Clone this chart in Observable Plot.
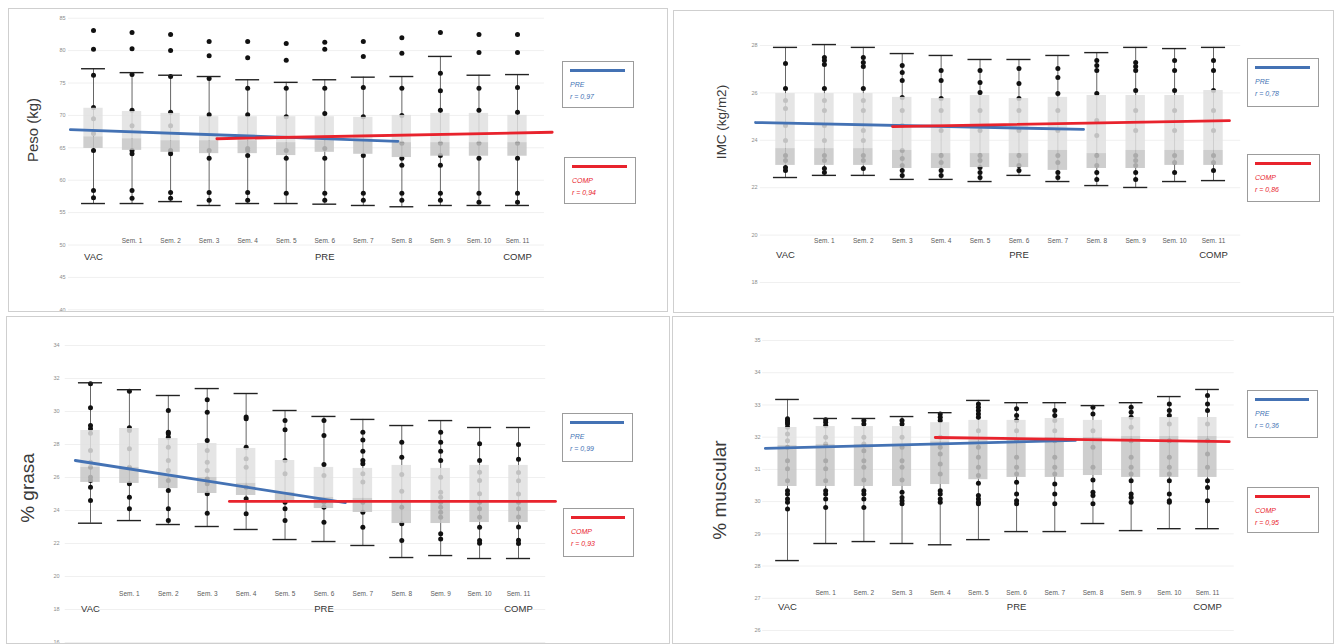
<!DOCTYPE html>
<html><head><meta charset="utf-8">
<script src="https://cdn.jsdelivr.net/npm/d3@7"></script>
<script src="https://cdn.jsdelivr.net/npm/@observablehq/plot@0.6"></script>
<style>
body{margin:0;background:#fff;width:1339px;height:644px;overflow:hidden;position:relative;font-family:"Liberation Sans",Arial,sans-serif}
.panel{position:absolute}
.panel svg{position:absolute;left:0;top:0;overflow:visible}
.frame{position:absolute;left:0;top:0;right:0;bottom:0;border:1.5px solid #cfcfcf;box-sizing:border-box;pointer-events:none}
.ytitle{position:absolute;transform:translate(-50%,-50%) rotate(-90deg);white-space:nowrap;color:#3a3a3a}
.legend{position:absolute;border:1px solid #9c9c9c;background:#fff;box-sizing:border-box}
.legend .ln{position:absolute;left:7px;right:8px;top:7px;height:3px}
.legend .tx{position:absolute;left:7px;top:17px;font-size:7px;line-height:12px;font-style:italic}
</style></head><body>
<script>
// ---------- categories / labels ----------
const categories = ["VAC","Sem. 1","Sem. 2","Sem. 3","Sem. 4","Sem. 5","Sem. 6","Sem. 7","Sem. 8","Sem. 9","Sem. 10","Sem. 11"];
const categoryRow1 = ["","Sem. 1","Sem. 2","Sem. 3","Sem. 4","Sem. 5","Sem. 6","Sem. 7","Sem. 8","Sem. 9","Sem. 10","Sem. 11"];
const categoryRow2 = ["VAC","","","","","","PRE","","","","","COMP"];
const seriesNames = ["PRE","COMP"];

// ---------- Peso (kg) ----------
const pesoTicks = [40,45,50,55,60,65,70,75,80,85];
const pesoMax = [77.2,76.6,76.2,76.0,75.5,75.1,75.5,75.9,76.0,79.1,76.2,76.3];
const pesoQ3 = [71.1,70.6,70.3,69.8,69.8,69.8,69.8,69.7,70.0,70.3,70.3,70.0];
const pesoMedian = [66.7,66.4,66.1,66.1,66.1,65.8,66.1,66.1,65.8,65.8,65.8,65.8];
const pesoQ1 = [64.9,64.6,64.3,64.1,64.1,63.8,64.3,64.0,63.5,63.7,63.7,63.7];
const pesoMin = [56.4,56.4,56.7,56.1,56.4,56.4,56.3,56.1,55.9,56.1,56.1,56.1];
const pesoPoints = [
  [83.1,80.2,76.2,71.2,69.5,67.2,64.6,58.4,57.3],
  [82.8,80.3,76.3,70.8,68.4,64.6,64.1,58.4,57.2],
  [82.5,80.0,76.0,70.5,68.4,64.6,64.1,58.1,57.2],
  [81.4,79.2,75.7,70.1,64.6,63.4,58.1,56.9],
  [81.4,78.9,74.2,70.1,64.9,64.6,63.8,58.1,56.9],
  [81.1,78.5,74.2,69.8,64.6,63.4,58.0],
  [81.3,80.2,74.2,70.3,64.9,63.4,58.0,56.9],
  [81.4,79.1,74.3,69.8,63.8,58.0,56.9],
  [82.0,79.6,74.2,70.0,65.7,63.4,62.3,58.0,56.9],
  [82.8,76.5,73.8,70.8,65.7,63.8,62.3,58.0,56.9],
  [82.5,79.7,74.2,70.8,65.7,63.4,58.0,56.6],
  [82.5,79.7,74.3,70.5,65.7,63.4,58.0,56.6]
];
const pesoTrendPre = [[-0.6,67.8],[7.9,66.0]];
const pesoTrendComp = [[3.2,66.4],[11.9,67.4]];
const pesoR = ["r = 0,97","r = 0,94"];

// ---------- IMC (kg/m2) ----------
const imcTicks = [18,20,22,24,26,28];
const imcMax = [27.92,28.04,27.92,27.66,27.58,27.41,27.41,27.58,27.70,27.92,27.87,27.92];
const imcQ3 = [25.97,25.97,25.97,25.81,25.76,25.89,25.76,25.81,25.89,25.89,25.89,26.10];
const imcMedian = [23.65,23.65,23.65,23.57,23.44,23.44,23.44,23.57,23.44,23.57,23.57,23.57];
const imcQ1 = [22.94,22.94,22.94,22.81,22.81,22.85,22.85,22.73,22.81,22.81,22.94,22.94];
const imcMin = [22.43,22.52,22.52,22.35,22.35,22.26,22.52,22.26,22.09,22.01,22.26,22.30];
const imcPoints = [
  [27.24,26.19,25.68,25.34,24.62,23.99,23.36,23.15,22.85,22.73],
  [27.49,27.37,27.20,26.19,25.68,25.26,24.62,23.99,23.36,23.15,22.81,22.64],
  [27.49,27.28,27.11,26.19,25.68,25.26,24.41,23.99,23.36,23.15,22.81],
  [27.16,26.86,26.52,25.81,25.26,24.62,23.57,23.23,22.94,22.73,22.52],
  [26.95,26.52,25.76,25.26,24.41,23.36,23.06,22.73,22.52],
  [26.95,26.44,26.02,25.26,24.41,23.36,23.15,22.85,22.64,22.43],
  [27.03,26.40,25.76,25.26,24.41,23.36,22.94,22.73],
  [27.03,26.65,25.97,25.26,24.41,23.36,23.06,22.64,22.43],
  [27.37,27.16,26.95,25.97,24.84,24.20,23.36,22.94,22.64,22.35],
  [27.28,27.11,26.95,26.10,25.26,24.41,23.36,23.15,22.94,22.64,22.35],
  [27.37,26.95,26.10,25.26,24.41,23.36,23.06,22.64],
  [27.37,26.95,26.10,25.26,24.41,23.36,23.06,22.73]
];
const imcTrendPre = [[-0.77,24.75],[7.66,24.46]];
const imcTrendComp = [[2.75,24.58],[11.41,24.83]];
const imcR = ["r = 0,78","r = 0,86"];

// ---------- % grasa ----------
const grasaTicks = [16,18,20,22,24,26,28,30,32,34];
const grasaMax = [31.74,31.32,30.97,31.39,31.09,30.06,29.70,29.52,29.15,29.45,29.03,29.03];
const grasaQ3 = [28.85,28.97,28.36,28.06,27.76,27.03,26.61,26.55,26.73,26.55,26.73,26.73];
const grasaMedian = [26.61,26.61,26.12,26.00,25.64,25.09,24.79,24.73,24.48,24.48,24.48,24.48];
const grasaQ1 = [25.70,25.64,25.33,25.03,24.91,24.48,24.12,23.88,23.21,23.21,23.27,23.27];
const grasaMin = [23.23,23.39,23.15,23.03,22.85,22.24,22.12,21.88,21.15,21.27,21.09,21.09];
const grasaPoints = [
  [31.68,30.22,29.15,28.95,28.68,27.64,26.93,26.62,26.02,25.82,25.41,24.61],
  [31.23,29.01,28.85,27.74,26.62,25.62,24.81,24.10],
  [30.06,28.75,28.65,28.44,27.84,27.03,26.42,25.82,25.21,24.10,23.39],
  [30.71,29.96,28.24,27.64,26.93,26.42,25.92,25.62,25.01,23.84],
  [29.66,29.56,27.84,27.13,26.62,25.41,24.71,23.80],
  [29.45,28.89,27.03,26.22,24.50,24.10,23.39],
  [29.45,28.55,26.79,26.12,24.50,24.20,23.29],
  [28.75,28.28,27.59,27.03,26.83,26.22,25.72,24.50,23.90,22.99],
  [28.14,27.23,26.18,25.17,24.20,23.19,22.18],
  [28.75,28.14,27.59,27.03,26.02,25.11,24.81,24.50,24.20,23.90,23.59,22.59,22.28],
  [28.04,27.03,26.32,25.82,25.01,24.50,24.10,23.59,22.99,22.18,22.02],
  [28.0,27.1,26.3,25.8,25.0,24.5,24.1,23.6,23.0,22.2,22.0]
];
const grasaTrendPre = [[-0.39,27.03],[6.55,24.48]];
const grasaTrendComp = [[3.57,24.55],[11.95,24.55]];
const grasaR = ["r = 0,99","r = 0,93"];

// ---------- % muscular ----------
const muscTicks = [26,27,28,29,30,31,32,33,34,35];
const muscMax = [33.17,32.58,32.58,32.64,32.76,33.14,33.07,33.07,32.98,33.07,33.26,33.48];
const muscQ3 = [32.30,32.33,32.33,32.33,32.45,32.52,32.52,32.58,32.52,32.61,32.61,32.61];
const muscMedian = [31.74,31.77,31.77,31.77,31.86,31.89,31.96,31.99,31.99,32.02,32.02,32.02];
const muscQ1 = [30.47,30.47,30.47,30.47,30.53,30.68,30.75,30.75,30.81,30.75,30.75,30.75];
const muscMin = [28.17,28.70,28.76,28.70,28.66,28.82,29.07,29.07,29.32,29.10,29.16,29.16];
const muscPoints = [
  [32.57,32.52,32.46,32.41,32.31,32.10,31.89,31.69,31.27,31.02,30.65,30.34,30.24,30.08,29.98,29.77],
  [32.54,32.46,32.36,32.00,31.79,31.27,31.02,30.65,30.34,30.24,30.08,29.82],
  [32.52,32.41,32.00,31.79,31.58,31.27,31.07,30.67,30.34,30.24,30.08,29.82],
  [32.52,32.41,32.00,31.69,31.27,31.07,30.67,30.29,30.13,30.03,29.93],
  [32.72,32.62,32.52,32.00,31.69,31.48,31.17,30.86,30.34,30.24,30.08,29.98],
  [33.03,32.93,32.83,32.72,32.62,32.20,31.69,31.38,31.07,30.81,30.57,30.19,30.08,29.98,29.93],
  [32.88,32.67,32.52,32.20,31.89,31.38,31.07,30.86,30.60,30.24,30.03,29.93],
  [32.83,32.67,32.52,32.20,31.89,31.38,31.07,30.86,30.55,30.24,29.93],
  [32.93,32.72,32.20,31.69,31.07,30.67,30.29,30.19,29.93],
  [32.93,32.77,32.62,32.31,31.89,31.38,31.07,30.86,30.65,30.24,30.13,29.98],
  [33.03,32.83,32.67,32.41,31.89,31.38,31.07,30.86,30.65,30.24,30.03,29.98],
  [33.29,33.03,32.83,32.41,31.89,31.48,31.07,30.65,30.44,30.03]
];
const muscTrendPre = [[-0.58,31.65],[7.54,31.90]];
const muscTrendComp = [[3.87,31.99],[11.57,31.86]];
const muscR = ["r = 0,36","r = 0,95"];

// ---------- layout / styles ----------
const BLUE = "#4472b4", RED = "#e8232d";
const panels = [
  {title:"Peso (kg)", titleSize:15, titleX:32, titleY:130, left:8, top:8, w:660, h:304,
   xRange:[85,509], yDomain:[40,85], yRange:[301.3,9.7], axisRight:57, rowValue:50.7, rowGap:16,
   ticks:pesoTicks, max:pesoMax, q3:pesoQ3, med:pesoMedian, q1:pesoQ1, min:pesoMin, points:pesoPoints,
   pre:pesoTrendPre, comp:pesoTrendComp, r:pesoR,
   legends:[{left:562,top:61,w:72,h:47},{left:564,top:157,w:72,h:47}]},
  {title:"IMC (kg/m2)", titleSize:13.5, titleX:721, titleY:122, left:673, top:10, w:661, h:303,
   xRange:[112,540], yDomain:[18,28], yRange:[272,35], axisRight:84, rowValue:19.77, rowGap:14,
   ticks:imcTicks, max:imcMax, q3:imcQ3, med:imcMedian, q1:imcQ1, min:imcMin, points:imcPoints,
   pre:imcTrendPre, comp:imcTrendComp, r:imcR,
   legends:[{left:1247,top:58,w:72,h:49},{left:1247,top:154,w:73,h:48}]},
  {title:"% grasa", titleSize:19, titleX:28, titleY:488, left:6, top:316, w:664, h:328,
   xRange:[84,512], yDomain:[16,34], yRange:[326,29], axisRight:53, rowValue:18.97, rowGap:15,
   ticks:grasaTicks, max:grasaMax, q3:grasaQ3, med:grasaMedian, q1:grasaQ1, min:grasaMin, points:grasaPoints,
   pre:grasaTrendPre, comp:grasaTrendComp, r:grasaR,
   legends:[{left:562,top:413,w:71,h:49},{left:563,top:508,w:71,h:49}]},
  {title:"% muscular", titleSize:19, titleX:720, titleY:490, left:672, top:316, w:662, h:328,
   xRange:[115,535], yDomain:[26,35], yRange:[314,24], axisRight:88, rowValue:27.17, rowGap:14,
   ticks:muscTicks, max:muscMax, q3:muscQ3, med:muscMedian, q1:muscQ1, min:muscMin, points:muscPoints,
   pre:muscTrendPre, comp:muscTrendComp, r:muscR,
   legends:[{left:1247,top:390,w:71,h:48},{left:1247,top:487,w:72,h:46}]}
];

function makePanel(cfg){
  const stats = categories.map((c,i)=>({i, cat:c, min:cfg.min[i], q1:cfg.q1[i], med:cfg.med[i], q3:cfg.q3[i], max:cfg.max[i]}));
  const pts = cfg.points.flatMap((arr,i)=>arr.map(v=>({i, v})));
  const labs = categories.map((c,i)=>({i, t1:categoryRow1[i], t2:categoryRow2[i]}));
  const pre = cfg.pre.map(([x,y])=>({x,y}));
  const comp = cfg.comp.map(([x,y])=>({x,y}));
  const hw = 0.25, cw = 0.31;
  const svg = Plot.plot({
    width: cfg.w, height: cfg.h,
    marginLeft: cfg.axisRight, marginRight: 0, marginTop: 0, marginBottom: 0,
    x: {type:"linear", domain:[0,11], range:cfg.xRange, axis:null},
    y: {domain:cfg.yDomain, range:cfg.yRange, axis:null},
    style: {fontFamily:'"Liberation Sans", Arial, sans-serif', background:"transparent", overflow:"visible"},
    marks: [
      Plot.ruleY(cfg.ticks, {x1:-0.65, x2:11.7, stroke:"#f0f0f0", strokeWidth:1}),
      Plot.axisY(cfg.ticks, {tickSize:0, tickPadding:0, fontSize:5.5, fill:"#8c8c8c", label:null}),
      Plot.ruleX(stats, {x:"i", y1:"min", y2:"max", stroke:"#555", strokeWidth:0.9}),
      Plot.dot(pts, {x:"i", y:"v", r:2.5, fill:"#111", stroke:"none"}),
      Plot.rect(stats, {x1:d=>d.i-hw, x2:d=>d.i+hw, y1:"med", y2:"q3", fill:"#e1e1e1", fillOpacity:0.85}),
      Plot.rect(stats, {x1:d=>d.i-hw, x2:d=>d.i+hw, y1:"q1", y2:"med", fill:"#c6c6c6", fillOpacity:0.85}),
      Plot.ruleY(stats, {y:"max", x1:d=>d.i-cw, x2:d=>d.i+cw, stroke:"#222", strokeWidth:1.4}),
      Plot.ruleY(stats, {y:"min", x1:d=>d.i-cw, x2:d=>d.i+cw, stroke:"#222", strokeWidth:1.4}),
      Plot.line(pre, {x:"x", y:"y", stroke:BLUE, strokeWidth:2.8}),
      Plot.line(comp, {x:"x", y:"y", stroke:RED, strokeWidth:2.8}),
      Plot.text(labs.filter(d=>d.t1), {x:"i", y:cfg.rowValue, text:"t1", fontSize:6.5, fill:"#5a5a5a"}),
      Plot.text(labs.filter(d=>d.t2), {x:"i", y:cfg.rowValue, dy:cfg.rowGap, text:"t2", fontSize:9.5, fill:"#333"})
    ]
  });
  const div = document.createElement("div");
  div.className = "panel";
  Object.assign(div.style, {left:cfg.left+"px", top:cfg.top+"px", width:cfg.w+"px", height:cfg.h+"px"});
  div.appendChild(svg);
  const fr = document.createElement("div"); fr.className = "frame"; div.appendChild(fr);
  document.body.appendChild(div);

  const t = document.createElement("div");
  t.className = "ytitle"; t.textContent = cfg.title;
  Object.assign(t.style, {left:cfg.titleX+"px", top:cfg.titleY+"px", fontSize:cfg.titleSize+"px"});
  document.body.appendChild(t);

  cfg.legends.forEach((L,k)=>{
    const col = k===0 ? BLUE : RED;
    const b = document.createElement("div"); b.className = "legend";
    Object.assign(b.style, {left:L.left+"px", top:L.top+"px", width:L.w+"px", height:L.h+"px"});
    const ln = document.createElement("div"); ln.className = "ln"; ln.style.background = col;
    const tx = document.createElement("div"); tx.className = "tx"; tx.style.color = col;
    tx.innerHTML = seriesNames[k] + "<br>" + cfg.r[k];
    b.appendChild(ln); b.appendChild(tx);
    document.body.appendChild(b);
  });
}
panels.forEach(makePanel);
</script>
</body></html>
